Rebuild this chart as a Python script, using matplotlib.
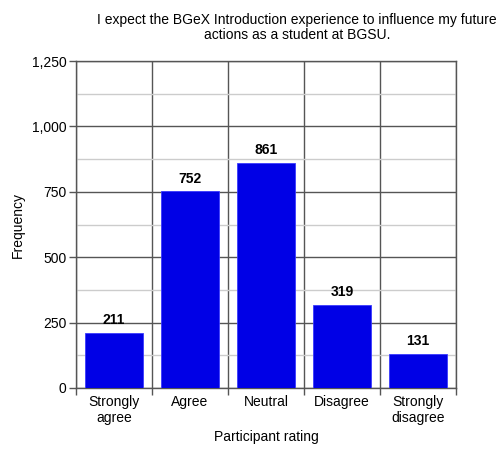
import matplotlib.pyplot as plt
import matplotlib.ticker as mticker

categories = ['Strongly\nagree', 'Agree', 'Neutral', 'Disagree', 'Strongly\ndisagree']
counts = [211, 752, 861, 319, 131]

plt.rcParams['font.family'] = ['Liberation Sans', 'DejaVu Sans']

fig = plt.figure(figsize=(4.98, 4.5), dpi=100)
ax = fig.add_axes([0.1526, 0.1378, 0.7631, 0.7266])

x = list(range(len(categories)))
ax.bar(x, counts, width=0.76, color='#0000e6', edgecolor='#3a3aff', linewidth=0.6, zorder=3)
for xi, v in zip(x, counts):
    ax.text(xi, v + 22, str(v), ha='center', va='bottom', fontsize=10, fontweight='bold', zorder=4)

ax.set_xlim(-0.5, len(categories) - 0.5)
ax.set_ylim(0, 1250)
ax.yaxis.set_major_locator(mticker.MultipleLocator(250))
ax.yaxis.set_minor_locator(mticker.MultipleLocator(125))
ax.yaxis.set_major_formatter(mticker.FuncFormatter(lambda v, p: f'{int(v):,}'))

# category boundaries for vertical grid
ax.set_xticks(x)
ax.set_xticklabels(categories, fontsize=10, linespacing=1.15)
ax.set_xticks([i - 0.5 for i in range(len(categories) + 1)], minor=True)
ax.tick_params(axis='x', which='major', length=0, pad=5)
ax.tick_params(axis='x', which='minor', length=5, width=1, color='#555555')
ax.tick_params(axis='y', which='major', length=5, width=1, color='#555555', labelsize=10, pad=2)
ax.tick_params(axis='y', which='minor', length=0)

ax.grid(axis='y', which='major', color='#555555', linewidth=1, zorder=1)
ax.grid(axis='y', which='minor', color='#cccccc', linewidth=1, zorder=1)
ax.grid(axis='x', which='minor', color='#555555', linewidth=1, zorder=1)
for s in ax.spines.values():
    s.set_color('#555555')
    s.set_linewidth(1)

ax.set_xlabel('Participant rating', fontsize=10, labelpad=4)
ax.set_ylabel('Frequency', fontsize=10, labelpad=5)
fig.text(0.596, 0.972, 'I expect the BGeX Introduction experience to influence my future\nactions as a student at BGSU.',
         ha='center', va='top', fontsize=10, linespacing=1.1)

fig.savefig('out.png', dpi=100)
